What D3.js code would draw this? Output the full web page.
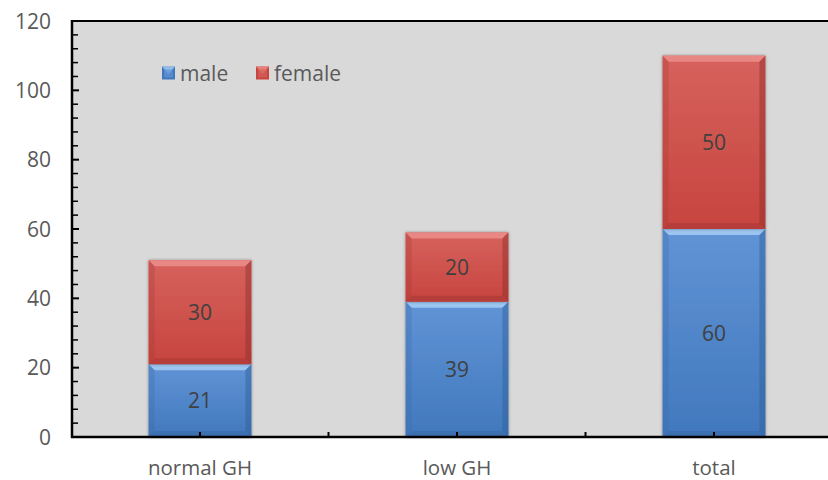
<!DOCTYPE html>
<html>
<head>
<meta charset="utf-8">
<script src="https://cdn.jsdelivr.net/npm/d3@7"></script>
<style>
  html, body { margin: 0; padding: 0; background: #ffffff; }
  svg { display: block; }
  text { font-family: "Open Sans", "Liberation Sans", sans-serif; }
</style>
</head>
<body>
<svg id="chart" width="828" height="480"></svg>
<script>
// Groups along the x axis
const categories = ["normal GH", "low GH", "total"];
// Stacked series (bottom to top)
const seriesNames = ["male", "female"];
const maleValues = [21, 39, 60];
const femaleValues = [30, 20, 50];
// Y axis ticks
const yTicks = [0, 20, 40, 60, 80, 100, 120];

const svg = d3.select("#chart");
const W = 828, H = 480;
const plot = { left: 72, top: 21, right: 842.5, bottom: 437 };

const y = d3.scaleLinear().domain([0, 120]).range([plot.bottom, plot.top]);
const x = d3.scaleBand().domain(categories).range([71.5, plot.right]).padding(0);
const barW = x.bandwidth() * 0.4;

const palette = {
  male:   { top: "#6094d6", bottom: "#4178bd", hi: "#a6cef5", lo: "#2f5d96", side: "#3a6aa8" },
  female: { top: "#d6625d", bottom: "#c7443f", hi: "#eb8e89", lo: "#8f2c2a", side: "#a83835" }
};

const defs = svg.append("defs");
Object.entries(palette).forEach(([k, c]) => {
  const g = defs.append("linearGradient").attr("id", "grad-" + k)
    .attr("x1", 0).attr("y1", 0).attr("x2", 0).attr("y2", 1);
  g.append("stop").attr("offset", "0%").attr("stop-color", c.top);
  g.append("stop").attr("offset", "100%").attr("stop-color", c.bottom);
});
defs.append("filter").attr("id", "shadow").attr("x", "-10%").attr("y", "-10%").attr("width", "120%").attr("height", "120%")
  .append("feDropShadow").attr("dx", 0).attr("dy", 0).attr("stdDeviation", 1.5)
  .attr("flood-color", "#000").attr("flood-opacity", 0.4);

// plot background
svg.append("rect")
  .attr("x", plot.left).attr("y", plot.top)
  .attr("width", plot.right - plot.left).attr("height", plot.bottom - plot.top)
  .attr("fill", "#d9d9d9");

// Stack data
const rows = categories.map((c, i) => ({ cat: c, male: maleValues[i], female: femaleValues[i] }));
const stacked = d3.stack().keys(seriesNames)(rows);

// draw a bevelled block
function bevelRect(g, x0, y0, w, h, key) {
  const c = palette[key];
  const b = Math.min(6, h / 3);
  const grp = g.append("g");
  grp.append("rect").attr("x", x0).attr("y", y0).attr("width", w).attr("height", h)
    .attr("fill", "url(#grad-" + key + ")").attr("filter", "url(#shadow)");
  // top edge highlight
  grp.append("polygon")
    .attr("points", [[x0, y0], [x0 + w, y0], [x0 + w - b, y0 + b], [x0 + b, y0 + b]].join(" "))
    .attr("fill", c.hi).attr("opacity", 0.85);
  // bottom edge
  grp.append("polygon")
    .attr("points", [[x0, y0 + h], [x0 + w, y0 + h], [x0 + w - b, y0 + h - b], [x0 + b, y0 + h - b]].join(" "))
    .attr("fill", c.lo).attr("opacity", 0.3);
  // left edge
  grp.append("polygon")
    .attr("points", [[x0, y0], [x0 + b, y0 + b], [x0 + b, y0 + h - b], [x0, y0 + h]].join(" "))
    .attr("fill", c.side).attr("opacity", 0.3);
  // right edge
  grp.append("polygon")
    .attr("points", [[x0 + w, y0], [x0 + w - b, y0 + b], [x0 + w - b, y0 + h - b], [x0 + w, y0 + h]].join(" "))
    .attr("fill", c.lo).attr("opacity", 0.45);
}

const barsG = svg.append("g");
stacked.forEach(layer => {
  layer.forEach(d => {
    const cx = x(d.data.cat) + x.bandwidth() / 2;
    const y0 = y(d[1]), y1 = y(d[0]);
    bevelRect(barsG, cx - barW / 2, y0, barW, y1 - y0, layer.key);
  });
});

// value labels
stacked.forEach(layer => {
  barsG.selectAll(null).data(layer).enter().append("text")
    .attr("x", d => x(d.data.cat) + x.bandwidth() / 2)
    .attr("y", d => (y(d[0]) + y(d[1])) / 2)
    .attr("dy", "0.36em")
    .attr("text-anchor", "middle")
    .attr("font-size", 21)
    .attr("fill", "#404040")
    .text(d => d.data[layer.key]);
});

// Y axis: labels and inward ticks
const yAxisG = svg.append("g");
yAxisG.selectAll("text").data(yTicks).enter().append("text")
  .attr("x", 51).attr("y", d => y(d)).attr("dy", "0.36em")
  .attr("text-anchor", "end").attr("font-size", 21).attr("fill", "#595959")
  .text(d => d);
const minorTicks = d3.range(0, 121, 4);
yAxisG.selectAll("line.minor").data(minorTicks).enter().append("line")
  .attr("x1", plot.left).attr("x2", d => plot.left + (d % 20 === 0 ? 7 : 6))
  .attr("y1", d => y(d)).attr("y2", d => y(d))
  .attr("stroke", "#000").attr("stroke-width", d => d % 20 === 0 ? 2 : 1.5);
yAxisG.append("line").attr("x1", plot.left).attr("x2", plot.left)
  .attr("y1", plot.top - 1).attr("y2", plot.bottom + 1)
  .attr("stroke", "#000").attr("stroke-width", 2.5);

// top border
svg.append("line").attr("x1", plot.left).attr("x2", W).attr("y1", plot.top).attr("y2", plot.top)
  .attr("stroke", "#000").attr("stroke-width", 2);

// X axis line with ticks at centers and boundaries
const xAxisG = svg.append("g");
const xTickPos = [];
categories.forEach(c => { xTickPos.push(x(c) + x.bandwidth() / 2); xTickPos.push(x(c) + x.bandwidth()); });
xAxisG.selectAll("line.t").data(xTickPos).enter().append("line")
  .attr("x1", d => d).attr("x2", d => d)
  .attr("y1", plot.bottom).attr("y2", plot.bottom - 5)
  .attr("stroke", "#000").attr("stroke-width", 2);
xAxisG.append("line").attr("x1", plot.left - 1).attr("x2", W)
  .attr("y1", plot.bottom).attr("y2", plot.bottom)
  .attr("stroke", "#000").attr("stroke-width", 2.5);
xAxisG.selectAll("text").data(categories).enter().append("text")
  .attr("x", d => x(d) + x.bandwidth() / 2).attr("y", 468).attr("dy", "0.36em")
  .attr("text-anchor", "middle").attr("font-size", 20.5).attr("fill", "#595959")
  .text(d => d);

// Legend
const legend = svg.append("g");
const legendItems = [{ key: "male", x: 162 }, { key: "female", x: 256 }];
legendItems.forEach(it => {
  const s = 13, ly = 73;
  const g = legend.append("g");
  const c = palette[it.key];
  g.append("rect").attr("x", it.x).attr("y", ly - s / 2).attr("width", s).attr("height", s)
    .attr("fill", c.bottom);
  g.append("polygon")
    .attr("points", [[it.x, ly - s / 2], [it.x + s, ly - s / 2], [it.x + s / 2, ly + 1]].join(" "))
    .attr("fill", c.hi).attr("opacity", 0.8);
  g.append("rect").attr("x", it.x + 2).attr("y", ly - s / 2 + 3).attr("width", s - 4).attr("height", s - 5)
    .attr("fill", c.top).attr("opacity", 0.7);
  g.append("text").attr("x", it.x + s + 5).attr("y", ly).attr("dy", "0.36em")
    .attr("font-size", 21).attr("fill", "#595959").text(it.key);
});
</script>
</body>
</html>
